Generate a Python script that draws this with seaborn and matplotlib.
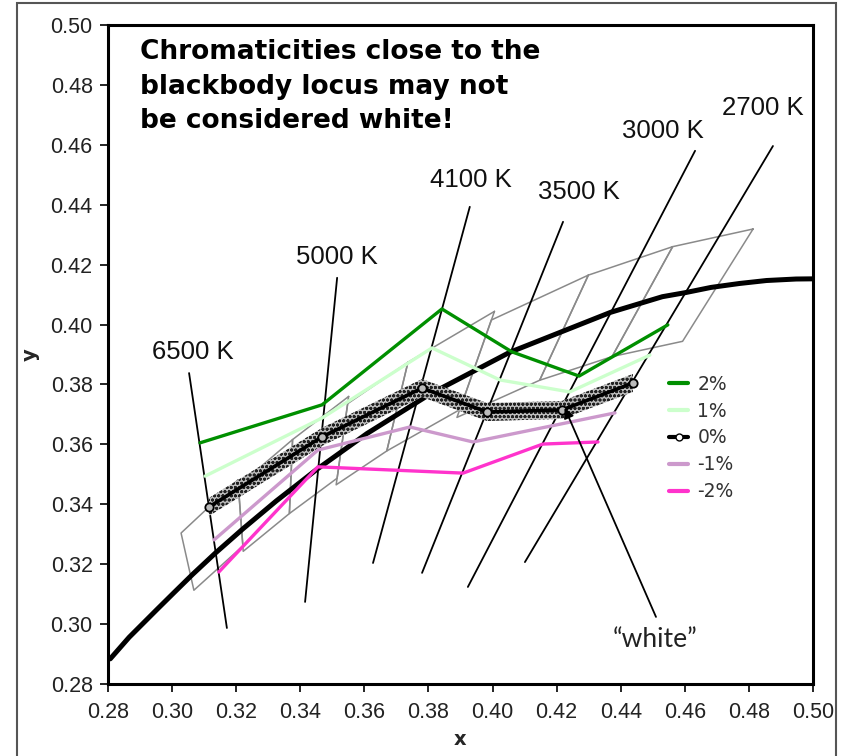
import matplotlib
matplotlib.use("Agg")
import matplotlib.pyplot as plt
import seaborn as sns
import numpy as np
import pandas as pd
from matplotlib.lines import Line2D
from matplotlib.patches import Rectangle
from matplotlib import font_manager

sns.set_theme(style="white")
plt.rcParams['font.family'] = ['Liberation Sans', 'DejaVu Sans']
plt.rcParams['hatch.linewidth'] = 0.9

# Blackbody (Planckian) locus
locus_x = [0.2807, 0.2866, 0.2952, 0.3004, 0.3064, 0.3135, 0.3221, 0.3325, 0.3451, 0.3608,
           0.3805, 0.4053, 0.4369, 0.4530, 0.4599, 0.4682, 0.4770, 0.4855, 0.4947, 0.5035,
           0.5267]
locus_y = [0.2884, 0.2956, 0.3048, 0.3103, 0.3166, 0.3237, 0.3318, 0.3411, 0.3516, 0.3636,
           0.3768, 0.3907, 0.4041, 0.4093, 0.4106, 0.4124, 0.4137, 0.4147, 0.4152, 0.4153,
           0.4133]

# Series (x, y)
s2_x = [0.3087, 0.3468, 0.3842, 0.4060, 0.4270, 0.4547]
s2_y = [0.3605, 0.3732, 0.4052, 0.3909, 0.3828, 0.3999]
s1_x = [0.3103, 0.3468, 0.3811, 0.4023, 0.4241, 0.4491]
s1_y = [0.3494, 0.3688, 0.3922, 0.3815, 0.3775, 0.3898]
s0_x = [0.3115, 0.3468, 0.3780, 0.3983, 0.4217, 0.4438]
s0_y = [0.3391, 0.3625, 0.3788, 0.3708, 0.3715, 0.3805]
sm1_x = [0.3131, 0.3455, 0.3742, 0.3939, 0.4382]
sm1_y = [0.3281, 0.3581, 0.3658, 0.3608, 0.3705]
sm2_x = [0.3146, 0.3455, 0.3908, 0.4157, 0.4329]
sm2_y = [0.3174, 0.3525, 0.3504, 0.3601, 0.3608]

series_labels = ['2%', '1%', '0%', '-1%', '-2%']
series_colors = ['#008f00', '#ccffcc', '#000000', '#cc99cc', '#ff33cc']

# ANSI quadrangles (corners)
quad_names = ['6500', '5700', '5000', '4500', '4000', '3500', '3000', '2700']
quad_x = [[0.3205, 0.3028, 0.3068, 0.3221],
          [0.3376, 0.3207, 0.3222, 0.3366],
          [0.3551, 0.3376, 0.3366, 0.3515],
          [0.3736, 0.3548, 0.3512, 0.3670],
          [0.4006, 0.3736, 0.3670, 0.3898],
          [0.4299, 0.3996, 0.3889, 0.4147],
          [0.4562, 0.4299, 0.4147, 0.4373],
          [0.4813, 0.4562, 0.4373, 0.4593]]
quad_y = [[0.3481, 0.3304, 0.3113, 0.3261],
          [0.3616, 0.3462, 0.3243, 0.3369],
          [0.3760, 0.3616, 0.3369, 0.3487],
          [0.3874, 0.3736, 0.3465, 0.3578],
          [0.4044, 0.3874, 0.3578, 0.3716],
          [0.4165, 0.4015, 0.3690, 0.3814],
          [0.4260, 0.4165, 0.3814, 0.3893],
          [0.4319, 0.4260, 0.3893, 0.3944]]

# Isotemperature lines: label, top (x,y), bottom (x,y), label position
cct_labels = ['6500 K', '5000 K', '4100 K', '3500 K', '3000 K', '2700 K']
cct_top_x = [0.3053, 0.3515, 0.3929, 0.4220, 0.4632, 0.4875]
cct_top_y = [0.3838, 0.4156, 0.4393, 0.4343, 0.4580, 0.4596]
cct_bot_x = [0.3171, 0.3415, 0.3627, 0.3780, 0.3923, 0.4101]
cct_bot_y = [0.2987, 0.3074, 0.3204, 0.3171, 0.3124, 0.3207]
cct_lab_x = [0.3065, 0.3515, 0.3933, 0.4270, 0.4532, 0.4844]
cct_lab_y = [0.3909, 0.4226, 0.4483, 0.4443, 0.4646, 0.4723]

# "white" annotation: arrow tip, arrow tail, text position
white_tip = (0.4225, 0.3722)
white_tail = (0.4510, 0.3024)
white_text = (0.4507, 0.2947)

W, H = 843, 756
fig = plt.figure(figsize=(W / 100, H / 100), dpi=100)
ax = fig.add_axes([108 / W, 1 - 684 / H, 705 / W, 659 / H])

# Figure frame
fig.patches.append(Rectangle((17 / W, -0.01), (836 - 17) / W, (H - 3) / H + 0.01,
                             transform=fig.transFigure, fill=False,
                             edgecolor='#555555', linewidth=1.5, zorder=0))

# Quadrangles
for qx, qy in zip(quad_x, quad_y):
    ax.plot(qx + [qx[0]], qy + [qy[0]], color='#8a8a8a', lw=1.1, zorder=2)

# Isotemperature lines
for tx, ty, bx, by, lab, lx, ly in zip(cct_top_x, cct_top_y, cct_bot_x, cct_bot_y,
                                       cct_labels, cct_lab_x, cct_lab_y):
    ax.plot([tx, bx], [ty, by], color='black', lw=1.3, zorder=3)
    ax.text(lx, ly, lab, ha='center', va='center', fontsize=18.5, color='#111111')

# Blackbody locus
sns.lineplot(x=locus_x, y=locus_y, sort=False, color='black', lw=3.6, ax=ax, zorder=4)

# hatched band around 0% curve
ax.fill_between(s0_x, np.array(s0_y) - 0.0030, np.array(s0_y) + 0.0030,
                facecolor='#bdbdbd', edgecolor='#222222', hatch='oooo', linewidth=0, zorder=5)

all_x = [s2_x, s1_x, s0_x, sm1_x, sm2_x]
all_y = [s2_y, s1_y, s0_y, sm1_y, sm2_y]
for sx, sy, lab, col in zip(all_x, all_y, series_labels, series_colors):
    if lab == '0%':
        sns.lineplot(x=sx, y=sy, sort=False, color=col, lw=2.6, marker='o', markersize=6,
                     markerfacecolor='#bbbbbb', markeredgecolor='black', markeredgewidth=1.3,
                     ax=ax, zorder=7)
    else:
        sns.lineplot(x=sx, y=sy, sort=False, color=col, lw=2.4, ax=ax, zorder=6)

# "white" annotation
ax.annotate('', xy=white_tip, xytext=white_tail,
            arrowprops=dict(arrowstyle='-|>', color='black', lw=1.3, mutation_scale=15,
                            shrinkA=0, shrinkB=0), zorder=8)
ax.text(white_text[0], white_text[1], '\u201cwhite\u201d', ha='center', va='center',
        fontsize=19, family=['Lato', 'DejaVu Sans'], color='#222222')

# Title text
ax.text(0.045, 0.978, 'Chromaticities close to the\nblackbody locus may not\nbe considered white!',
        transform=ax.transAxes, ha='left', va='top', fontsize=19, fontweight='bold',
        family=['DejaVu Sans'], linespacing=1.42, color='black')

# Legend
handles = []
for lab, col in zip(series_labels, series_colors):
    if lab == '0%':
        handles.append(Line2D([], [], color=col, lw=3, marker='o', markersize=5,
                              markerfacecolor='white', markeredgecolor='black'))
    else:
        handles.append(Line2D([], [], color=col, lw=3))
leg = ax.legend(handles, series_labels, loc='upper left', bbox_to_anchor=(0.772, 0.495),
                frameon=False, handlelength=1.0, handletextpad=0.5, labelspacing=0.42,
                prop={'family': ['DejaVu Sans'], 'size': 13.5})
for t in leg.get_texts():
    t.set_color('#333333')

ax.set_xlim(0.28, 0.50)
ax.set_ylim(0.28, 0.50)
xt = np.round(np.arange(0.28, 0.501, 0.02), 2)
ax.set_xticks(xt)
ax.set_yticks(xt)
names = {f.name for f in font_manager.fontManager.ttflist}
tick_font = [n for n in ['Liberation Sans Narrow', 'DejaVu Sans Condensed'] if n in names] + ['Liberation Sans']
ax.set_xticklabels([f'{v:.2f}' for v in xt], family=tick_font, fontsize=15.5)
ax.set_yticklabels([f'{v:.2f}' for v in xt], family=tick_font, fontsize=15.5)
ax.tick_params(axis='both', direction='out', length=6, width=1.2, color='black',
               bottom=True, left=True, labelcolor='#222222')
ax.tick_params(axis='x', pad=7)
ax.tick_params(axis='y', pad=5)
for s in ax.spines.values():
    s.set_color('black')
    s.set_linewidth(2.2)
ax.set_xlabel('x', fontsize=14, fontweight='bold', family=['DejaVu Sans'], labelpad=5)
ax.set_ylabel('y', fontsize=14, fontweight='bold', family=['DejaVu Sans'], labelpad=8)
ax.grid(False)

fig.savefig('out.png', dpi=100)
